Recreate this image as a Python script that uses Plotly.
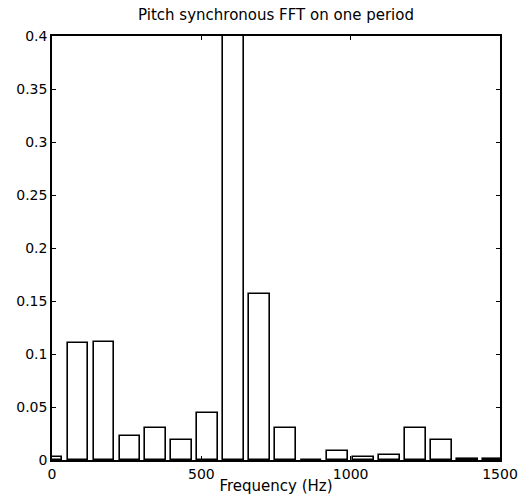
import plotly.graph_objects as go

# Harmonic frequencies (Hz) and magnitudes
freqs = [0, 87, 174, 261, 348, 435, 522, 609, 696, 783, 870, 957, 1044, 1131, 1218, 1305, 1392, 1479]
mags = [0.003, 0.110, 0.111, 0.0225, 0.0305, 0.0185, 0.0447, 0.42, 0.157, 0.030, 0.0,
        0.0083, 0.003, 0.0046, 0.030, 0.0185, 0.001, 0.001]

x_ticks = [0, 500, 1000, 1500]
x_ticktext = ["0", "500", "1000", "1500"]
y_ticks = [0, 0.05, 0.1, 0.15, 0.2, 0.25, 0.3, 0.35, 0.4]
y_ticktext = ["0", "0.05", "0.1", "0.15", "0.2", "0.25", "0.3", "0.35", "0.4"]

FAM = "DejaVu Sans, Arial, sans-serif"

fig = go.Figure()
fig.add_trace(go.Bar(
    x=freqs, y=mags, width=70,
    marker=dict(color="white", line=dict(color="black", width=1.6)),
    showlegend=False,
))

fig.update_layout(
    width=530, height=504,
    margin=dict(l=52, r=18, t=36, b=36),
    paper_bgcolor="white", plot_bgcolor="white",
    font=dict(family=FAM, size=14, color="black"),
    bargap=0,
    title=dict(text="Pitch synchronous FFT on one period", xref="paper", x=0.5, xanchor="center",
               y=0.971, yanchor="middle", font=dict(size=15, color="black", family=FAM)),
    xaxis=dict(range=[0, 1500], tickvals=x_ticks, ticktext=x_ticktext,
               ticks="inside", ticklen=4, tickwidth=1, tickcolor="black",
               tickfont=dict(family=FAM, size=14, color="black"),
               showline=True, linecolor="black", linewidth=1.6, mirror="ticks",
               showgrid=False, zeroline=False,
               title=dict(text="Frequency (Hz)", standoff=0,
                          font=dict(family=FAM, size=15, color="black"))),
    yaxis=dict(range=[0, 0.4], tickvals=y_ticks, ticktext=y_ticktext,
               ticks="inside", ticklen=4, tickwidth=1, tickcolor="black",
               tickfont=dict(family=FAM, size=14, color="black"),
               showline=True, linecolor="black", linewidth=1.6, mirror="ticks",
               showgrid=False, zeroline=False),
)

fig.write_html("out.html")
